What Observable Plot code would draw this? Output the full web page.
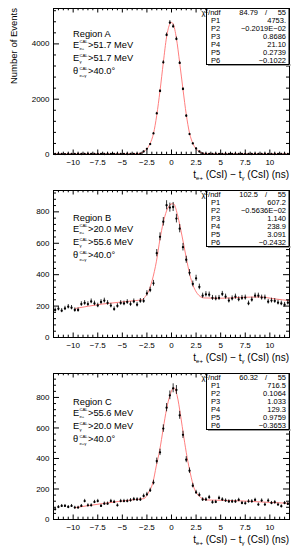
<!DOCTYPE html>
<html><head><meta charset="utf-8">
<script src="https://cdn.jsdelivr.net/npm/d3@7"></script>
<script src="https://cdn.jsdelivr.net/npm/@observablehq/plot@0.6"></script>
<style>
body{margin:0;background:#fff;}
#chart{width:302px;}
svg{display:block;font-family:"Liberation Sans",Arial,sans-serif;}
</style></head><body><div id="chart"></div>
<script>
// bin centres (ns), 72 bins of 1/3 ns between -12 and 12
const binCenters = [-11.833,-11.5,-11.167,-10.833,-10.5,-10.167,-9.833,-9.5,-9.167,-8.833,-8.5,-8.167,-7.833,-7.5,-7.167,-6.833,-6.5,-6.167,-5.833,-5.5,-5.167,-4.833,-4.5,-4.167,-3.833,-3.5,-3.167,-2.833,-2.5,-2.167,-1.833,-1.5,-1.167,-0.833,-0.5,-0.167,0.167,0.5,0.833,1.167,1.5,1.833,2.167,2.5,2.833,3.167,3.5,3.833,4.167,4.5,4.833,5.167,5.5,5.833,6.167,6.5,6.833,7.167,7.5,7.833,8.167,8.5,8.833,9.167,9.5,9.833,10.167,10.5,10.833,11.167,11.5,11.833];

const countsA = [18,22,20,17,23,19,21,24,18,20,22,19,21,23,20,18,22,21,19,24,20,22,18,21,23,25,
  30,109,206,377,761,1485,2297,3333,4326,4772,4637,4181,3311,2369,1402,739,399,217,109,40,25,
  22,20,19,23,21,18,20,22,24,19,21,20,23,18,22,21,19,20,24,22,18,21,20,19,22];
const countsB = [175,183,171,185,196,190,175,175,213,220,213,230,217,204,226,235,220,203,181,201,220,217,226,213,230,209,233,233,281,303,345,537,
  641,737,842,827,831,757,693,575,495,412,341,377,322,266,275,273,252,249,252,277,260,235,249,260,243,252,254,217,241,266,266,254,254,228,235,233,222,217,209,222];
const countsC = [67,82,89,89,82,89,78,78,89,121,93,93,115,121,89,104,104,121,115,93,121,121,121,126,133,131,131,154,165,191,242,383,
  440,596,733,814,860,849,683,555,392,320,222,178,161,131,131,146,113,115,141,131,124,118,118,118,128,108,106,119,119,128,98,124,98,124,108,113,98,87,108,102];

// fitted curves
const fitXA = [-12,-4,-3.5,-3.17,-2.83,-2.5,-2.17,-1.83,-1.5,-1.17,-0.83,-0.5,-0.17,0,0.17,0.5,0.83,1.17,1.5,1.83,2.17,2.5,2.83,3.17,3.5,4,12];
const fitYA = [21,22,30,48,100,205,400,760,1420,2300,3330,4250,4720,4775,4720,4200,3320,2350,1450,780,400,205,100,48,30,22,21];
const fitXB = [-9.77,-7.05,-3.67,-2.98,-2.65,-2.31,-1.96,-1.53,-1.18,-0.84,-0.51,-0.17,0.07,0.24,0.58,0.92,1.26,1.59,1.93,2.27,2.61,2.94,3.28,5,7,9,10.6,12];
const fitYB = [185,213,235,241,262,298,365,486,624,731,805,843,852,850,788,693,586,479,383,320,281,260,252,250,255,258,245,235];
const fitXC = [-9.77,-7.05,-3.67,-2.81,-2.31,-1.9,-1.55,-1.2,-0.84,-0.5,-0.15,0.24,0.58,0.92,1.26,1.59,1.93,2.27,2.61,2.94,3.6,6.3,9.7,12];
const fitYC = [78,104,131,137,180,240,350,455,596,725,815,864,810,683,537,407,298,211,167,146,128,124,113,106];

const xTicksMajor = [-10,-7.5,-5,-2.5,0,2.5,5,7.5,10];
const xTicksMinor = [-11.5,-11,-10.5,-9.5,-9,-8.5,-8,-7,-6.5,-6,-5.5,-4.5,-4,-3.5,-3,-2,-1.5,-1,-0.5,0.5,1,1.5,2,3,3.5,4,4.5,5.5,6,6.5,7,8,8.5,9,9.5,10.5,11,11.5];
const yMajorA = [0,2000,4000];
const yMinorA = [400,800,1200,1600,2400,2800,3200,3600,4400,4800,5200];
const yMajorBC = [0,200,400,600,800];
const yMinorBC = [40,80,120,160,240,280,320,360,440,480,520,560,640,680,720,760,840,880,920];

const statLabels = ["P1","P2","P3","P4","P5","P6"];
const statsA = {chi2:"84.79", ndf:"55", p:["4753.","−0.2019E−02","0.8686","21.10","0.2739","−0.1022"]};
const statsB = {chi2:"102.5", ndf:"55", p:["607.2","−0.5636E−02","1.140","238.9","3.091","−0.2432"]};
const statsC = {chi2:"60.32", ndf:"55", p:["716.5","0.1064","1.033","129.3","0.9759","−0.3653"]};

const panels = [
  {region:"Region A", ee:"51.7", eg:"51.7", counts:countsA, fx:fitXA, fy:fitYA, yMax:5280, yMajor:yMajorA, yMinor:yMinorA, mt:8, mb:30, stats:statsA, yTitle:true},
  {region:"Region B", ee:"20.0", eg:"55.6", counts:countsB, fx:fitXB, fy:fitYB, yMax:936, yMajor:yMajorBC, yMinor:yMinorBC, mt:6, mb:31, stats:statsB, yTitle:false},
  {region:"Region C", ee:"55.6", eg:"20.0", counts:countsC, fx:fitXC, fy:fitYC, yMax:957, yMajor:yMajorBC, yMinor:yMinorBC, mt:5, mb:33, stats:statsC, yTitle:false}
];

const W = 302, H = 184, ML = 53, MR = 13;
const fmt = d => String(d).replace("-", "−");

function txt(g, x, y, s, size, anchor) {
  return g.append("text").attr("x", x).attr("y", y).attr("font-size", size)
    .attr("text-anchor", anchor || "start").attr("fill", "black").text(s);
}

function makePanel(p) {
  const data = binCenters.map((x, i) => ({x, y: p.counts[i]}));
  const fit = p.fx.map((x, i) => ({x, y: p.fy[i]}));
  const ph = H - p.mt - p.mb, pw = W - ML - MR;
  const xMaj = 4.5, xMin = 2.3, yMaj = 6, yMin = 3;
  const svg = Plot.plot({
    width: W, height: H, marginLeft: ML, marginRight: MR, marginTop: p.mt, marginBottom: p.mb,
    x: {domain: [-12, 12]}, y: {domain: [0, p.yMax]},
    style: {fontFamily: "Liberation Sans, Arial, sans-serif", fontSize: "8px", color: "black", background: "white", overflow: "visible"},
    marks: [
      Plot.line(fit, {x: "x", y: "y", stroke: "#ff7070", strokeWidth: 0.9, curve: "monotone-x"}),
      Plot.ruleX(data, {x: "x", y1: d => Math.max(0, d.y - Math.sqrt(d.y)), y2: d => d.y + Math.sqrt(d.y), stroke: "black", strokeWidth: 0.8}),
      Plot.dot(data, {x: "x", y: "y", r: 1.15, fill: "black"}),
      Plot.tickX(xTicksMajor, {x: d => d, insetTop: ph - xMaj, stroke: "black"}),
      Plot.tickX(xTicksMajor, {x: d => d, insetBottom: ph - xMaj, stroke: "black"}),
      Plot.tickX(xTicksMinor, {x: d => d, insetTop: ph - xMin, stroke: "black"}),
      Plot.tickX(xTicksMinor, {x: d => d, insetBottom: ph - xMin, stroke: "black"}),
      Plot.tickY(p.yMajor, {y: d => d, insetRight: pw - yMaj, stroke: "black"}),
      Plot.tickY(p.yMajor, {y: d => d, insetLeft: pw - yMaj, stroke: "black"}),
      Plot.tickY(p.yMinor, {y: d => d, insetRight: pw - yMin, stroke: "black"}),
      Plot.tickY(p.yMinor, {y: d => d, insetLeft: pw - yMin, stroke: "black"}),
      Plot.axisX({ticks: xTicksMajor, tickSize: 0, tickPadding: 5, tickFormat: fmt, label: null}),
      Plot.axisY({ticks: p.yMajor, tickSize: 0, tickPadding: 4, tickFormat: d => String(d), label: null}),
      Plot.frame({stroke: "black"})
    ]
  });
  const g = d3.select(svg).append("g").attr("font-family", "Liberation Sans, Arial, sans-serif");
  const top = p.mt;
  // stats box
  const bx = 206.5, bw = W - MR - bx, bh = 56;
  g.append("rect").attr("x", bx + 1.5).attr("y", top + bh).attr("width", bw).attr("height", 2).attr("fill", "#999");
  g.append("rect").attr("x", bx).attr("y", top + 0.5).attr("width", bw).attr("height", bh).attr("fill", "white").attr("stroke", "black");
  const fs = 7.5, row = 7.9;
  const b0 = top + 7.2;
  const t0 = g.append("text").attr("x", 211).attr("y", b0).attr("font-size", fs);
  t0.append("tspan").text("χ");
  t0.append("tspan").attr("font-size", 5).attr("dy", -2.5).text("2");
  t0.append("tspan").attr("dy", 2.5).text("/ndf");
  txt(g, 258, b0, p.stats.chi2, fs, "end");
  txt(g, 266, b0, "/", fs, "middle");
  txt(g, 286, b0, p.stats.ndf, fs, "end");
  statLabels.forEach((l, i) => {
    txt(g, 211, b0 + row * (i + 1), l, fs);
    txt(g, 286, b0 + row * (i + 1), p.stats.p[i], fs, "end");
  });
  // region text
  const ms = 9.3, ss = 4.3;
  txt(g, 73, 36.5, p.region, ms);
  const lines = [{sym: "E", sub: "e+", val: ">" + p.ee + " MeV", y: 47.5},
                 {sym: "E", sub: "γ", val: ">" + p.eg + " MeV", y: 61},
                 {sym: "θ", sub: "e+γ", val: ">40.0°", y: 74.3}];
  lines.forEach(L => {
    txt(g, 73, L.y, L.sym, ms);
    txt(g, 79.4, L.y - 4.2, "CAL", ss);
    txt(g, 79.4, L.y + 2.2, L.sub, ss);
    txt(g, 88, L.y, L.val, ms);
  });
  // x title
  const xt = g.append("text").attr("x", W - MR).attr("y", H - p.mb + 24).attr("font-size", 10).attr("text-anchor", "end");
  xt.append("tspan").text("t");
  xt.append("tspan").attr("font-size", 6).attr("dy", 2).text("e+");
  xt.append("tspan").attr("dy", -2).text(" (CsI) − t");
  xt.append("tspan").attr("font-size", 6).attr("dy", 2).text("γ");
  xt.append("tspan").attr("dy", -2).text(" (CsI) (ns)");
  if (p.yTitle) {
    g.append("text").attr("transform", `translate(16.5,${top}) rotate(-90)`).attr("font-size", 9.5)
      .attr("text-anchor", "end").text("Number of Events");
  }
  return svg;
}

const root = document.getElementById("chart");
panels.forEach(p => root.appendChild(makePanel(p)));
</script></body></html>
